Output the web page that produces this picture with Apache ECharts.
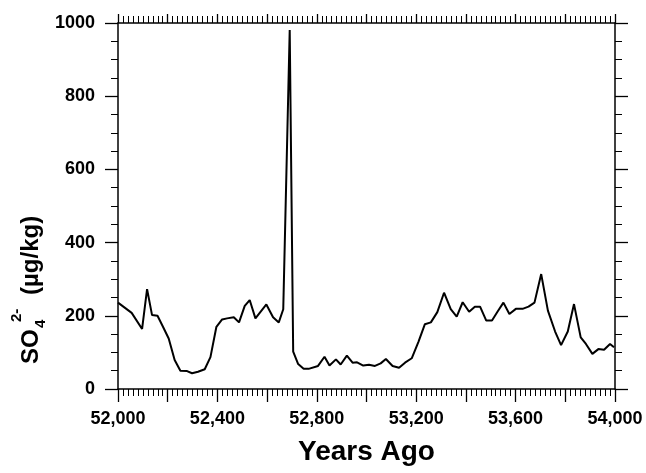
<!DOCTYPE html>
<html>
<head>
<meta charset="utf-8">
<script src="https://cdn.jsdelivr.net/npm/echarts@6/dist/echarts.min.js"></script>
<style>
html,body{margin:0;padding:0;background:#fff;}
#chart{width:646px;height:473px;}
</style>
</head>
<body>
<div id="chart"></div>
<script>
// Years before present (x) and sulfate concentration (y)
var years = [52000,52055,52097,52117,52137,52159,52181,52204,52228,52251,52278,52298,52322,52349,52372,52396,52419,52439,52466,52487,52510,52530,52553,52597,52624,52647,52665,52691,52705,52725,52747,52767,52805,52831,52851,52877,52896,52921,52944,52962,52987,53010,53034,53057,53078,53105,53131,53155,53182,53209,53235,53259,53285,53312,53339,53363,53387,53413,53436,53457,53482,53505,53527,53551,53575,53601,53628,53652,53676,53703,53730,53759,53783,53810,53835,53862,53883,53909,53933,53956,53980,53996];
var so4 = [236,208,164,273,202,200,170,138,79,50,49,43,47,54,87,170,190,193,196,182,227,243,193,231,196,182,218,981,102,68,55,55,63,88,64,81,67,91,72,73,64,66,63,70,82,63,58,72,84,129,177,182,210,263,218,198,237,211,225,225,187,187,211,236,205,219,219,225,236,314,214,157,120,157,232,141,123,96,109,107,123,114];
var xTickLabels = ['52,000','52,400','52,800','53,200','53,600','54,000'];
var yTickLabels = ['0','200','400','600','800','1000'];

var FONT = 'Liberation Sans';
var data = years.map(function(y,i){return [y, so4[i]];});

function fmtX(v){
  var idx = Math.round((v-52000)/400);
  if (Math.abs(v-52000-idx*400) < 1e-6 && idx>=0 && idx<xTickLabels.length) return xTickLabels[idx];
  return '';
}
function fmtY(v){
  var idx = Math.round(v/200);
  return yTickLabels[idx] || '';
}

var axisLine = {show:true, onZero:false, lineStyle:{color:'#000', width:1.5}};
var tick = {show:true, inside:false, length:13, lineStyle:{color:'#000', width:1.3}};
var minor = function(n){return {show:true, splitNumber:n, length:7, lineStyle:{color:'#000', width:1}};};
var lbl = {show:true, color:'#000', fontFamily:FONT, fontWeight:'bold', fontSize:18};

var chart = echarts.init(document.getElementById('chart'), null, {renderer:'canvas'});
chart.setOption({
  animation:false,
  backgroundColor:'#fff',
  grid:{left:118, right:31, top:23, bottom:84, containLabel:false},
  xAxis:[
    {type:'value', min:52000, max:54000, interval:200, position:'bottom',
     axisLine:axisLine, axisTick:tick, minorTick:minor(10),
     splitLine:{show:false}, minorSplitLine:{show:false},
     axisLabel:Object.assign({}, lbl, {margin:21, formatter:fmtX}),
     name:'Years Ago', nameLocation:'middle', nameGap:49,
     nameTextStyle:{color:'#000', fontFamily:FONT, fontWeight:'bold', fontSize:28}},
    {type:'value', min:52000, max:54000, interval:200, position:'top',
     axisLine:axisLine, axisTick:{show:true, inside:false, length:9, lineStyle:{color:'#000', width:1.3}},
     minorTick:minor(10),
     splitLine:{show:false}, minorSplitLine:{show:false},
     axisLabel:{show:false}}
  ],
  yAxis:[
    {type:'value', min:0, max:1000, interval:200, position:'left',
     axisLine:axisLine, axisTick:tick, minorTick:minor(4),
     splitLine:{show:false}, minorSplitLine:{show:false},
     axisLabel:Object.assign({}, lbl, {margin:23, formatter:fmtY})},
    {type:'value', min:0, max:1000, interval:200, position:'right',
     axisLine:axisLine, axisTick:tick, minorTick:minor(4),
     splitLine:{show:false}, minorSplitLine:{show:false},
     axisLabel:{show:false}}
  ],
  graphic:[
    {type:'text', x:31, y:364, rotation:Math.PI/2,
     style:{text:'SO', fill:'#000', font:'bold 24px "Liberation Sans"', textAlign:'left', textVerticalAlign:'middle'}},
    {type:'text', x:41, y:328, rotation:Math.PI/2,
     style:{text:'4', fill:'#000', font:'bold 15px "Liberation Sans"', textAlign:'left', textVerticalAlign:'middle'}},
    {type:'text', x:17, y:322, rotation:Math.PI/2,
     style:{text:'2-', fill:'#000', font:'bold 15px "Liberation Sans"', textAlign:'left', textVerticalAlign:'middle'}},
    {type:'text', x:31, y:295, rotation:Math.PI/2,
     style:{text:'(\u00b5g/kg)', fill:'#000', font:'bold 24px "Liberation Sans"', textAlign:'left', textVerticalAlign:'middle'}}
  ],
  series:[{
    type:'line', data:data, xAxisIndex:0, yAxisIndex:0,
    showSymbol:false, symbol:'none',
    lineStyle:{color:'#000', width:2}, itemStyle:{color:'#000'}
  }]
});
</script>
</body>
</html>
